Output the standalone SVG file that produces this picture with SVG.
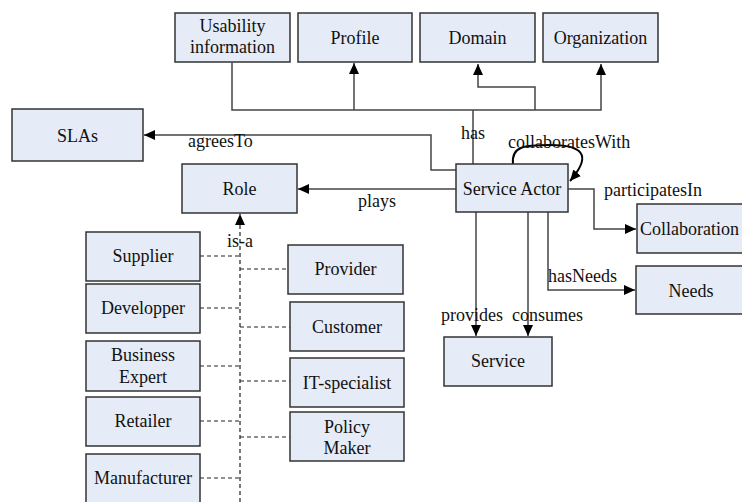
<svg xmlns="http://www.w3.org/2000/svg" width="742" height="502" viewBox="0 0 742 502">
<defs>
<marker id="arr" markerUnits="userSpaceOnUse" markerWidth="12" markerHeight="12" viewBox="0 0 12 12" refX="11" refY="6" orient="auto">
<path d="M0,1 L11,6 L0,11 Z" fill="#000"/>
</marker>
</defs>
<style>
.box{fill:#E6ECF7;stroke:#333;stroke-width:1.5}
.t{font-family:"Liberation Serif","Times New Roman",serif;font-size:18px;fill:#111;text-anchor:middle}
.l{font-family:"Liberation Serif","Times New Roman",serif;font-size:18px;fill:#111}
.c{fill:none;stroke:#444;stroke-width:1.5}
.d{fill:none;stroke:#222;stroke-width:1.2;stroke-dasharray:4,3}
</style>
<rect width="742" height="502" fill="#fff"/>
<g id="connectors">
<polyline class="c" points="232,63 232,110 601,110 601,64" marker-start="url(#arr)" marker-end="url(#arr)"/>
<line class="c" x1="354" y1="110" x2="354" y2="63" marker-end="url(#arr)"/>
<polyline class="c" points="535,110 535,87 478,87 478,64" marker-end="url(#arr)"/>
<line class="c" x1="473" y1="110" x2="473" y2="164"/>
<polyline class="c" points="456,170 431,170 431,135 144,135" marker-end="url(#arr)"/>
<line class="c" x1="456" y1="189" x2="298" y2="189" marker-end="url(#arr)"/>
<path d="M513,164 C511,146 525,145 550,145 C590,145 588,160 570,181" fill="none" stroke="#000" stroke-width="2" marker-end="url(#arr)"/>
<polyline class="c" points="568,189 594,189 594,229 636,229" marker-end="url(#arr)"/>
<polyline class="c" points="548,212 548,290 635,290" marker-end="url(#arr)"/>
<line class="c" x1="476" y1="212" x2="476" y2="336" marker-end="url(#arr)"/>
<line class="c" x1="528" y1="212" x2="528" y2="336" marker-end="url(#arr)"/>
<line class="d" x1="240" y1="502" x2="240" y2="214" marker-end="url(#arr)"/>
<line class="d" x1="200" y1="256" x2="240" y2="256"/>
<line class="d" x1="200" y1="308" x2="240" y2="308"/>
<line class="d" x1="200" y1="366" x2="240" y2="366"/>
<line class="d" x1="200" y1="421" x2="240" y2="421"/>
<line class="d" x1="200" y1="478" x2="240" y2="478"/>
<line class="d" x1="240" y1="269" x2="288" y2="269"/>
<line class="d" x1="240" y1="327" x2="290" y2="327"/>
<line class="d" x1="240" y1="381" x2="290" y2="381"/>
<line class="d" x1="240" y1="437" x2="290" y2="437"/>
<text class="l" x="461" y="139">has</text>
<text class="l" x="188" y="147">agreesTo</text>
<text class="l" x="508" y="148">collaboratesWith</text>
<text class="l" x="358" y="207">plays</text>
<text class="l" x="604" y="196">participatesIn</text>
<text class="l" x="548" y="282">hasNeeds</text>
<text class="l" x="441" y="321">provides</text>
<text class="l" x="512" y="321">consumes</text>
<text class="l" x="227" y="247">is-a</text>
</g>
<g id="usability"><rect class="box" x="175" y="13" width="115" height="49"/><text class="t" x="232.5" y="32">Usability</text><text class="t" x="232.5" y="53">information</text></g>
<g id="profile"><rect class="box" x="298" y="13" width="114" height="49"/><text class="t" x="355" y="44">Profile</text></g>
<g id="domain"><rect class="box" x="420" y="13" width="115" height="49"/><text class="t" x="477.5" y="44">Domain</text></g>
<g id="organization"><rect class="box" x="543" y="13" width="115" height="49"/><text class="t" x="600.5" y="44">Organization</text></g>
<g id="slas"><rect class="box" x="12" y="109" width="131" height="52"/><text class="t" x="77.5" y="142">SLAs</text></g>
<g id="role"><rect class="box" x="182" y="164" width="115" height="49"/><text class="t" x="239.5" y="195">Role</text></g>
<g id="serviceactor"><rect class="box" x="456" y="164" width="112" height="48"/><text class="t" x="512" y="195">Service Actor</text></g>
<g id="collaboration"><rect class="box" x="637" y="204" width="120" height="49"/><text class="l" x="640" y="235">Collaboration</text></g>
<g id="needs"><rect class="box" x="636" y="266" width="120" height="48"/><text class="t" x="691" y="297">Needs</text></g>
<g id="service"><rect class="box" x="444" y="337" width="108" height="49"/><text class="t" x="498" y="367">Service</text></g>
<g id="supplier"><rect class="box" x="86" y="232" width="114" height="49"/><text class="t" x="143" y="262">Supplier</text></g>
<g id="developper"><rect class="box" x="86" y="284" width="114" height="49"/><text class="t" x="143" y="314">Developper</text></g>
<g id="businessexpert"><rect class="box" x="86" y="341" width="114" height="50"/><text class="t" x="143" y="361">Business</text><text class="t" x="143" y="383">Expert</text></g>
<g id="retailer"><rect class="box" x="86" y="397" width="114" height="49"/><text class="t" x="143" y="427">Retailer</text></g>
<g id="manufacturer"><rect class="box" x="86" y="454" width="114" height="60"/><text class="t" x="143" y="484">Manufacturer</text></g>
<g id="provider"><rect class="box" x="288" y="245" width="115" height="49"/><text class="t" x="345.5" y="275">Provider</text></g>
<g id="customer"><rect class="box" x="290" y="302" width="114" height="49"/><text class="t" x="347" y="333">Customer</text></g>
<g id="itspecialist"><rect class="box" x="290" y="358" width="114" height="49"/><text class="t" x="347" y="389">IT-specialist</text></g>
<g id="policymaker"><rect class="box" x="290" y="412" width="114" height="49"/><text class="t" x="347" y="433">Policy</text><text class="t" x="347" y="454">Maker</text></g>
</svg>
